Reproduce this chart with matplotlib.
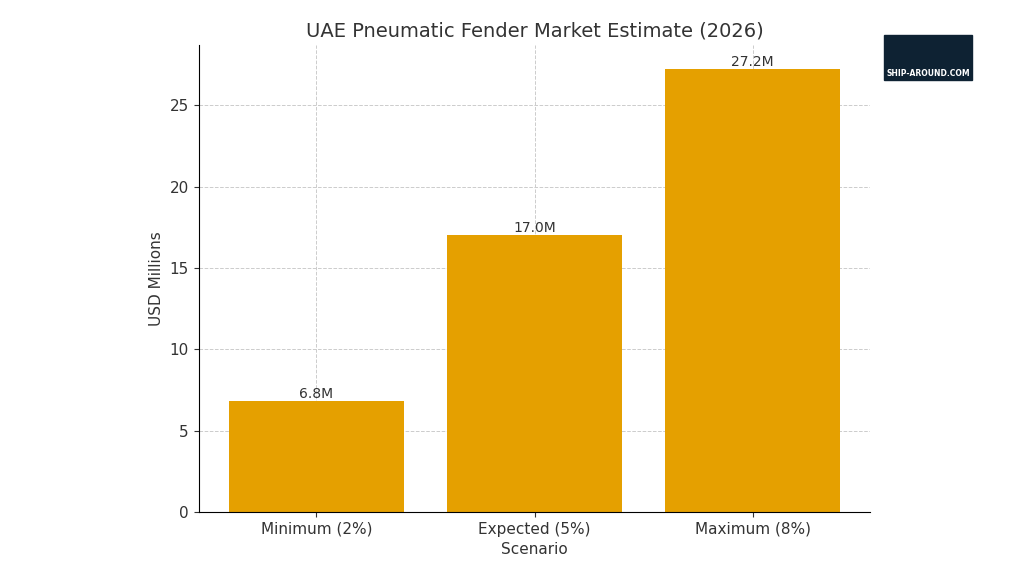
import matplotlib.pyplot as plt
from matplotlib.patches import Rectangle

scenarios = ["Minimum (2%)", "Expected (5%)", "Maximum (8%)"]
values = [6.8, 17.0, 27.2]
labels = ["6.8M", "17.0M", "27.2M"]

fig = plt.figure(figsize=(10.24, 5.76), dpi=100)
ax = fig.add_axes([0.194, 0.111, 0.656, 0.811])

bars = ax.bar(scenarios, values, color="#E5A000", width=0.8, zorder=2)
for b, lab in zip(bars, labels):
    ax.text(b.get_x() + b.get_width() / 2, b.get_height(), lab,
            ha="center", va="bottom", fontsize=10, color="#333333")

ax.set_ylim(0, 28.7)
ax.set_title("UAE Pneumatic Fender Market Estimate (2026)", fontsize=14, color="#333333")
ax.set_xlabel("Scenario", fontsize=11, color="#333333")
ax.set_ylabel("USD Millions", fontsize=11, color="#333333")
ax.grid(True, linestyle="--", color="#cccccc", linewidth=0.7, zorder=0)
ax.spines["top"].set_visible(False)
ax.spines["right"].set_visible(False)
ax.tick_params(labelsize=11, colors="#333333")

# logo
fig.patches.append(Rectangle((884 / 1024, 1 - 80 / 576), 88 / 1024, 45 / 576,
                             transform=fig.transFigure, color="#0e2233"))
fig.text(928 / 1024, 1 - 74 / 576, "SHIP-AROUND.COM", ha="center", va="center",
         fontsize=5.5, color="white", weight="bold")

fig.savefig("out.png", dpi=100)
